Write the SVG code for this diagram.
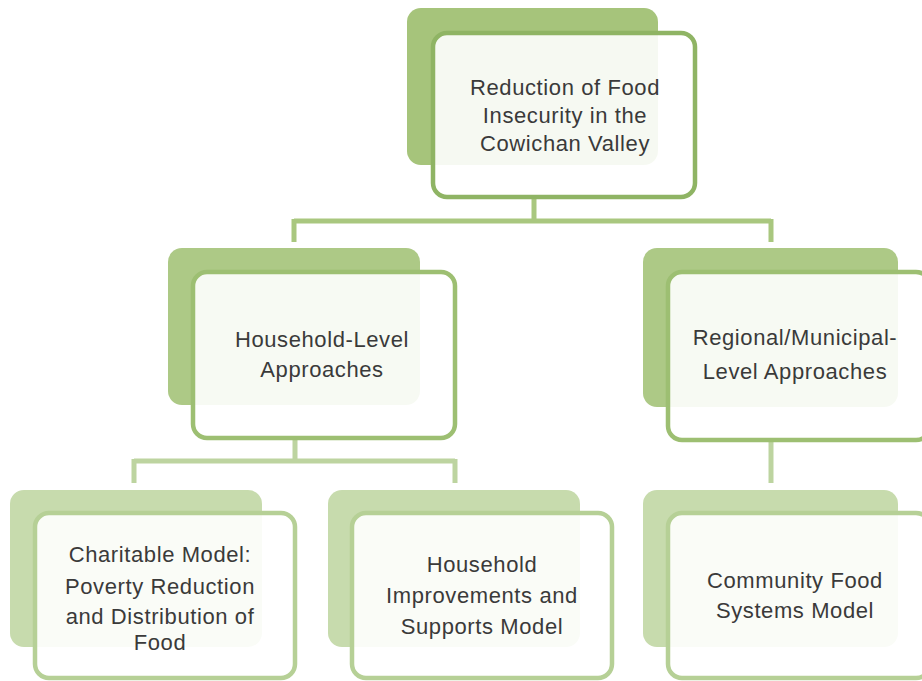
<svg xmlns="http://www.w3.org/2000/svg" width="922" height="681" viewBox="0 0 922 681">
<style>
.t{font-family:"Liberation Sans",Arial,sans-serif;font-size:22px;fill:#3a3a3a;text-anchor:middle;letter-spacing:0.6px}
.b1{fill:#a6c47b}
.f1{fill:#ffffff;fill-opacity:0.9;stroke:#8fb464;stroke-width:4.5}
.b2{fill:#adc986}
.f2{fill:#ffffff;fill-opacity:0.9;stroke:#9dbf72;stroke-width:4.5}
.b3{fill:#c7dbad}
.f3{fill:#ffffff;fill-opacity:0.9;stroke:#b6d096;stroke-width:4.5}
.c{fill:none;stroke-width:5}
</style>
<rect width="922" height="681" fill="#ffffff"/>
<g id="connectors">
<path class="c" stroke="#a9c77f" d="M534 197 V221 M294 221 H771 M294 219 V242 M771 219 V242"/>
<path class="c" stroke="#bdd4a0" d="M295 438 V461 M134 461 H455 M134 459 V483 M455 459 V483"/>
<path class="c" stroke="#bdd4a0" d="M771 440 V483"/>
</g>
<g id="n_top">
<rect class="b1" x="407" y="8" width="251" height="157" rx="14"/>
<rect class="f1" x="433" y="33" width="262" height="164" rx="14"/>
<text class="t" x="565" y="95">Reduction of Food</text>
<text class="t" x="565" y="123">Insecurity in the</text>
<text class="t" x="565" y="151">Cowichan Valley</text>
</g>
<g id="n_household">
<rect class="b2" x="168" y="248" width="252" height="157" rx="14"/>
<rect class="f2" x="193" y="272" width="262" height="166" rx="14"/>
<text class="t" x="322" y="347">Household-Level</text>
<text class="t" x="322" y="377">Approaches</text>
</g>
<g id="n_regional">
<rect class="b2" x="643" y="248" width="255" height="159" rx="14"/>
<rect class="f2" x="668" y="272" width="262" height="168" rx="14"/>
<text class="t" x="795" y="345">Regional/Municipal-</text>
<text class="t" x="795" y="379">Level Approaches</text>
</g>
<g id="n_charitable">
<rect class="b3" x="10" y="490" width="252" height="157" rx="14"/>
<rect class="f3" x="35" y="513" width="260" height="165" rx="14"/>
<text class="t" x="160" y="562">Charitable Model:</text>
<text class="t" x="160" y="594">Poverty Reduction</text>
<text class="t" x="160" y="624">and Distribution of</text>
<text class="t" x="160" y="650">Food</text>
</g>
<g id="n_improvements">
<rect class="b3" x="328" y="490" width="252" height="157" rx="14"/>
<rect class="f3" x="352" y="513" width="260" height="165" rx="14"/>
<text class="t" x="482" y="572">Household</text>
<text class="t" x="482" y="603">Improvements and</text>
<text class="t" x="482" y="634">Supports Model</text>
</g>
<g id="n_community">
<rect class="b3" x="643" y="490" width="255" height="157" rx="14"/>
<rect class="f3" x="668" y="513" width="262" height="165" rx="14"/>
<text class="t" x="795" y="588">Community Food</text>
<text class="t" x="795" y="618">Systems Model</text>
</g>
</svg>
